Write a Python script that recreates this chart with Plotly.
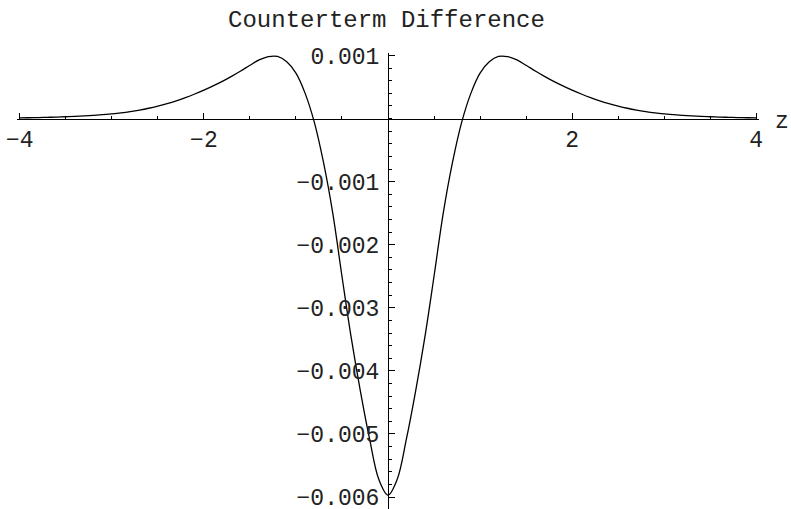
import plotly.graph_objects as go

# z values and the plotted counterterm difference
z_vals = [
    -4.0, -3.9, -3.8, -3.7, -3.6, -3.5, -3.4, -3.3, -3.2, -3.1,
    -3.0, -2.9, -2.8, -2.7, -2.6, -2.5, -2.4, -2.3, -2.2, -2.1,
    -2.0, -1.9, -1.8, -1.7, -1.6, -1.5, -1.4, -1.3, -1.2, -1.1,
    -1.0, -0.9, -0.8, -0.7, -0.6, -0.5, -0.4, -0.3, -0.2, -0.1,
    0.0,
    0.1, 0.2, 0.3, 0.4, 0.5, 0.6, 0.7, 0.8, 0.9, 1.0,
    1.1, 1.2, 1.3, 1.4, 1.5, 1.6, 1.7, 1.8, 1.9, 2.0,
    2.1, 2.2, 2.3, 2.4, 2.5, 2.6, 2.7, 2.8, 2.9, 3.0,
    3.1, 3.2, 3.3, 3.4, 3.5, 3.6, 3.7, 3.8, 3.9, 4.0,
]
diff_vals = [
    0.000011, 0.000013, 0.000016, 0.000020, 0.000024, 0.000029, 0.000035, 0.000042, 0.000051, 0.000062,
    0.000075, 0.000091, 0.000111, 0.000135, 0.000164, 0.000198, 0.000237, 0.000282, 0.000333, 0.000390,
    0.000452, 0.000518, 0.000590, 0.000670, 0.000755, 0.000845, 0.000930, 0.000983, 0.000985, 0.000900,
    0.000720, 0.000400, -0.000060, -0.000700, -0.001500, -0.002500, -0.003470, -0.004320, -0.005080, -0.005720,
    -0.005970,
    -0.005720, -0.005080, -0.004320, -0.003470, -0.002500, -0.001500, -0.000700, -0.000060, 0.000400, 0.000720,
    0.000900, 0.000985, 0.000983, 0.000930, 0.000845, 0.000755, 0.000670, 0.000590, 0.000518, 0.000452,
    0.000390, 0.000333, 0.000282, 0.000237, 0.000198, 0.000164, 0.000135, 0.000111, 0.000091, 0.000075,
    0.000062, 0.000051, 0.000042, 0.000035, 0.000029, 0.000024, 0.000020, 0.000016, 0.000013, 0.000011,
]

x_tickvals = [-4, -2, 2, 4]
x_ticktext = ["\u22124", "\u22122", "2", "4"]
y_tickvals = [0.001, -0.001, -0.002, -0.003, -0.004, -0.005, -0.006]
y_ticktext = ["0.001", "\u22120.001", "\u22120.002", "\u22120.003",
              "\u22120.004", "\u22120.005", "\u22120.006"]

x_range = [-4.03, 4.03]
y_range = [-0.00619, 0.00104]

FONT = "Liberation Mono, Courier New, monospace"
W, H = 791, 509
L, R, T, B = 17, 32, 53, 0
plot_h = H - T - B

# axes cross at the origin, like the original
x_axis_pos = (0 - y_range[0]) / (y_range[1] - y_range[0])
y_axis_pos = (0 - x_range[0]) / (x_range[1] - x_range[0])

fig = go.Figure()
fig.add_trace(go.Scatter(
    x=z_vals, y=diff_vals, mode="lines",
    line=dict(color="black", width=1.3, shape="spline", smoothing=1),
    hoverinfo="skip", showlegend=False, cliponaxis=False,
))

tick_style = dict(ticks="inside", ticklen=6, tickwidth=1, tickcolor="black",
                  ticklabeloverflow="allow")
minor_style = dict(ticks="inside", ticklen=3, tickwidth=1, tickcolor="black", tickmode="linear", tick0=0)

fig.update_layout(
    width=W, height=H,
    margin=dict(l=L, r=R, t=T, b=B, autoexpand=False),
    paper_bgcolor="white",
    plot_bgcolor="white",
    font=dict(family=FONT, size=23, color="#222"),
    title=dict(
        text="Counterterm Difference",
        x=386.5 / W, xref="container", xanchor="center",
        y=1 - 18.5 / H, yref="container", yanchor="middle",
        font=dict(family=FONT, size=24, color="#222"),
    ),
    xaxis=dict(
        range=x_range, anchor="free", position=x_axis_pos, automargin=False,
        showline=True, linecolor="black", linewidth=1,
        showgrid=False, zeroline=False,
        tickmode="array", tickvals=x_tickvals, ticktext=x_ticktext,
        minor=dict(dtick=0.5, **minor_style), **tick_style,
    ),
    yaxis=dict(
        range=y_range, anchor="free", position=y_axis_pos, automargin=False,
        showline=True, linecolor="black", linewidth=1,
        showgrid=False, zeroline=False,
        tickmode="array", tickvals=y_tickvals, ticktext=y_ticktext,
        ticklabelstandoff=4,
        minor=dict(dtick=0.0002, **minor_style), **tick_style,
    ),
    annotations=[dict(
        text="z", xref="paper", yref="paper",
        x=(W - L) / (W - L - R), y=1 - (122 - T) / plot_h,
        xanchor="right", yanchor="middle", showarrow=False,
        font=dict(family=FONT, size=23, color="#222"),
    )],
)

# drop the default 8px page margin so the figure fills the window
fig.write_html("out.html", config={"displayModeBar": False},
               post_script="document.body.style.margin='0';")
